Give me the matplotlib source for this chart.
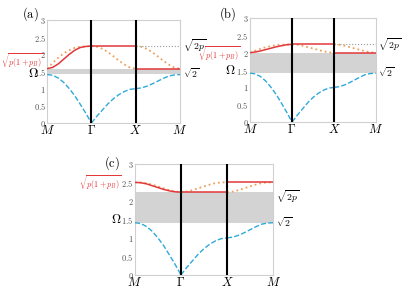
import matplotlib
matplotlib.use("Agg")
import matplotlib.pyplot as plt
import numpy as np

plt.rcParams['mathtext.fontset'] = 'cm'

# path M -> Gamma -> X -> M, 9 samples per segment
seg_u = np.linspace(0, 1, 9)
path_labels = ['$M$', r'$\Gamma$', '$X$', '$M$']
y_ticks = [0, 0.5, 1, 1.5, 2, 2.5, 3]

# acoustic branch (same for all panels), per segment
blue_mg = [1.41, 1.39, 1.31, 1.18, 1.00, 0.79, 0.54, 0.28, 0.00]
blue_gx = [0.00, 0.20, 0.38, 0.56, 0.71, 0.83, 0.92, 0.98, 1.00]
blue_xm = [1.00, 1.02, 1.07, 1.14, 1.22, 1.30, 1.37, 1.40, 1.41]

# optical branches, per panel: [M-G, G-X, X-M]
red_a = [[1.58, 1.62, 1.72, 1.86, 2.00, 2.12, 2.20, 2.23, 2.24],
         [2.24] * 9,
         [1.58] * 9]
orange_a = [[1.58, 1.75, 1.90, 2.03, 2.12, 2.19, 2.22, 2.235, 2.24],
            [2.24, 2.22, 2.16, 2.06, 1.94, 1.81, 1.70, 1.61, 1.58],
            [2.24, 2.22, 2.16, 2.06, 1.94, 1.81, 1.70, 1.61, 1.58]]
red_b = [[2.00, 2.02, 2.05, 2.09, 2.13, 2.17, 2.20, 2.23, 2.24],
         [2.24] * 9,
         [2.00] * 9]
orange_b = [[2.00, 2.06, 2.11, 2.16, 2.19, 2.22, 2.23, 2.235, 2.24],
            [2.24, 2.23, 2.20, 2.16, 2.12, 2.08, 2.04, 2.01, 2.00],
            [2.24, 2.23, 2.20, 2.16, 2.12, 2.08, 2.04, 2.01, 2.00]]
red_c = [[2.50, 2.49, 2.46, 2.41, 2.36, 2.31, 2.27, 2.245, 2.236],
         [2.236] * 9,
         [2.50] * 9]
orange_c = [[2.50, 2.50, 2.48, 2.44, 2.39, 2.34, 2.29, 2.25, 2.236],
            [2.236, 2.25, 2.29, 2.34, 2.39, 2.44, 2.48, 2.50, 2.50],
            [2.236, 2.25, 2.29, 2.34, 2.39, 2.44, 2.48, 2.50, 2.50]]

# band gaps (bottom, top)
gap_a = (1.42, 1.56)
gap_b = (1.414, 2.0)
gap_c = (1.414, 2.236)
sqrt2p = 2.236

RED = '#e2383a'
ORANGE = '#eba25e'
BLUE = '#2fa9d9'

fig = plt.figure(figsize=(4.1, 2.9), dpi=100)


def panel(rect, red, orange, gap, tag, tag_pos, red_lbl, om_lbl, r2p_y, r2_y, grey_dot):
    ax = fig.add_axes(rect)
    ax.axhspan(gap[0], gap[1], color='#d3d3d3', lw=0, zorder=0)
    blue = [blue_mg, blue_gx, blue_xm]
    for i in range(3):
        x = i + seg_u
        ax.plot(x, orange[i], color=ORANGE, ls=':', lw=1.3, zorder=2)
        ax.plot(x, red[i], color=RED, lw=1.1, zorder=3)
        ax.plot(x, blue[i], color=BLUE, ls='--', lw=1.0, zorder=3)
    if grey_dot:
        ax.plot(2 + seg_u, [sqrt2p] * 9, color='#999999', ls=':', lw=0.8, zorder=1)
    for xv in [1, 2]:
        ax.axvline(xv, color='black', lw=1.5, zorder=4)
    ax.set_xlim(0, 3)
    ax.set_ylim(0, 3)
    ax.set_xticks([0, 1, 2, 3])
    ax.set_xticklabels(path_labels, fontsize=9)
    ax.set_yticks(y_ticks)
    ax.set_yticklabels(['$%g$' % v for v in y_ticks], fontsize=6, color='#555555')
    ax.tick_params(length=0, pad=1)
    for s in ax.spines.values():
        s.set_color('#d0d0d0')
        s.set_linewidth(0.8)
    ax.text(red_lbl[0], red_lbl[1], r'$\sqrt{p(1+p_B)}$', color=RED, fontsize=5.8,
            ha='right', va='center', clip_on=False)
    ax.text(om_lbl[0], om_lbl[1], r'$\Omega$', fontsize=9, ha='center', va='center', clip_on=False)
    ax.text(3.06, r2p_y, r'$\sqrt{2p}$', fontsize=7, ha='left', va='center', clip_on=False)
    ax.text(3.06, r2_y, r'$\sqrt{2}$', fontsize=7, ha='left', va='center', clip_on=False)
    fig.text(tag_pos[0], tag_pos[1], r'$\mathrm{(%s)}$' % tag, fontsize=9, ha='center', va='center')
    return ax


panel([0.115, 0.576, 0.324, 0.355], red_a, orange_a, gap_a, 'a', (0.073, 0.952),
      (-0.08, 1.8), (-0.32, 1.45), 2.24, 1.45, True)
panel([0.610, 0.579, 0.307, 0.359], red_b, orange_b, gap_b, 'b', (0.556, 0.952),
      (-0.21, 1.97), (-0.48, 1.5), 2.22, 1.44, True)
panel([0.329, 0.052, 0.337, 0.383], red_c, orange_c, gap_c, 'c', (0.273, 0.438),
      (-0.28, 2.49), (-0.41, 1.49), 2.11, 1.43, False)

fig.savefig('out.png', dpi=100)
